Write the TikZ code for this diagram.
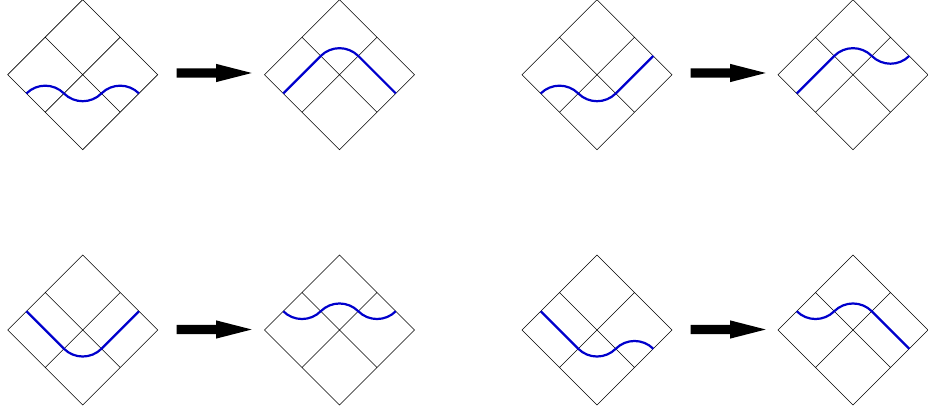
\documentclass[tikz,border=0pt]{standalone}
\begin{document}
\begin{tikzpicture}[x=1pt,y=1pt,
  cellline/.style={draw=black, line width=0.6pt},
  wave/.style={draw=blue!80!black, line width=2.2pt},
  bigarrow/.style={fill=black}]
\useasboundingbox (0,0) rectangle (928,412);
% diamond grids
\foreach \cx/\cy/\nm in {82.7/337.3/d1, 339.5/337.3/d2, 597/337.3/d3, 853/337.3/d4,
                         82.7/82/d5, 339.5/82/d6, 597/82/d7, 853/82/d8}{
  \coordinate (\nm) at (\cx,\cy);
  \draw[cellline] ([shift={(-75,0)}]\nm) -- ([shift={(0,75)}]\nm) -- ([shift={(75,0)}]\nm) -- ([shift={(0,-75)}]\nm) -- cycle
    ([shift={(-37.5,37.5)}]\nm) -- ([shift={(37.5,-37.5)}]\nm)
    ([shift={(37.5,37.5)}]\nm) -- ([shift={(-37.5,-37.5)}]\nm);
}
% wave paths
\begin{scope}[shift={(d1)}]
  \draw[wave] (-56.25,-18.75) arc[start angle=135,end angle=45,radius=26.52pt]
    arc[start angle=225,end angle=315,radius=26.52pt]
    arc[start angle=135,end angle=45,radius=26.52pt];
\end{scope}
\begin{scope}[shift={(d2)}]
  \draw[wave] (-56.25,-18.75) -- (-18.75,18.75)
    arc[start angle=135,end angle=45,radius=26.52pt] -- (56.25,-18.75);
\end{scope}
\begin{scope}[shift={(d3)}]
  \draw[wave] (-56.25,-18.75) arc[start angle=135,end angle=45,radius=26.52pt]
    arc[start angle=225,end angle=315,radius=26.52pt] -- (56.25,18.75);
\end{scope}
\begin{scope}[shift={(d4)}]
  \draw[wave] (-56.25,-18.75) -- (-18.75,18.75)
    arc[start angle=135,end angle=45,radius=26.52pt]
    arc[start angle=225,end angle=315,radius=26.52pt];
\end{scope}
\begin{scope}[shift={(d5)}]
  \draw[wave] (-56.25,18.75) -- (-18.75,-18.75)
    arc[start angle=225,end angle=315,radius=26.52pt] -- (56.25,18.75);
\end{scope}
\begin{scope}[shift={(d6)}]
  \draw[wave] (-56.25,18.75) arc[start angle=225,end angle=315,radius=26.52pt]
    arc[start angle=135,end angle=45,radius=26.52pt]
    arc[start angle=225,end angle=315,radius=26.52pt];
\end{scope}
\begin{scope}[shift={(d7)}]
  \draw[wave] (-56.25,18.75) -- (-18.75,-18.75)
    arc[start angle=225,end angle=315,radius=26.52pt]
    arc[start angle=135,end angle=45,radius=26.52pt];
\end{scope}
\begin{scope}[shift={(d8)}]
  \draw[wave] (-56.25,18.75) arc[start angle=225,end angle=315,radius=26.52pt]
    arc[start angle=135,end angle=45,radius=26.52pt] -- (56.25,-18.75);
\end{scope}
% arrows
\foreach \tx/\ty/\nm in {251.7/339/a1, 765.7/339/a2, 251.7/82.5/a3, 765.7/82.5/a4}{
  \coordinate (\nm) at (\tx,\ty);
  \fill[bigarrow] (\nm) -- ++(-35.7,9.15) -- ++(0,-4.5) -- ++(-39.3,0) -- ++(0,-9.3)
    -- ++(39.3,0) -- ++(0,-4.5) -- cycle;
}
\end{tikzpicture}
\end{document}
